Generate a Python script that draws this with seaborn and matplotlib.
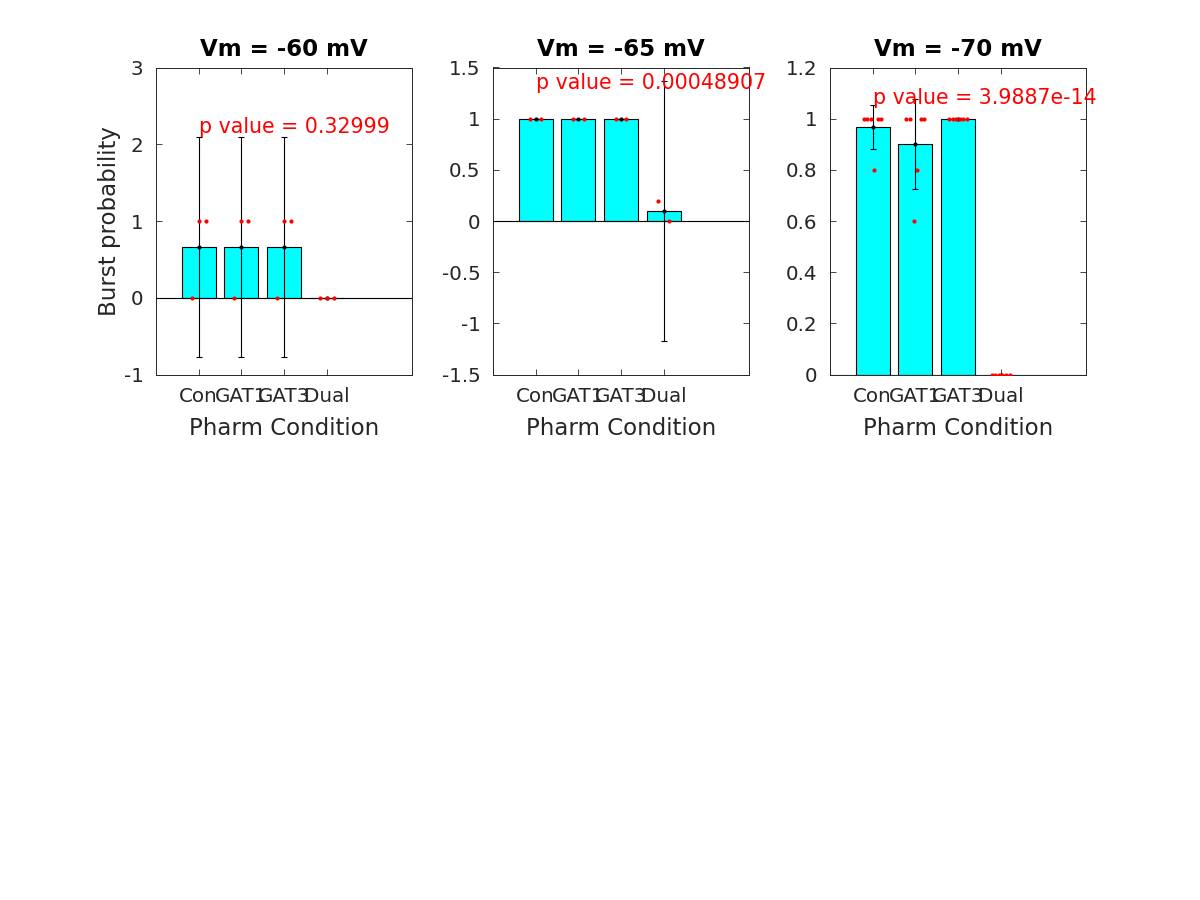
import numpy as np
import pandas as pd
import matplotlib
matplotlib.use("Agg")
import matplotlib.pyplot as plt
import seaborn as sns

# Data
conditions = ["Con", "GAT1", "GAT3", "Dual"]
vm_titles = ["Vm = -60 mV", "Vm = -65 mV", "Vm = -70 mV"]

# individual burst probabilities per condition, one list per Vm
vals_60 = [[0, 1, 1], [0, 1, 1], [0, 1, 1], [0, 0, 0]]
vals_65 = [[1, 1], [1, 1], [1, 1], [0.2, 0]]
vals_70 = [[1, 1, 1, 0.8, 1, 1], [1, 1, 0.6, 0.8, 1, 1], [1, 1, 1, 1, 1, 1], [0, 0, 0, 0, 0, 0]]

# 95% CI half widths
ci_60 = [1.434, 1.434, 1.434, 0]
ci_65 = [0, 0, 0, 1.27]
ci_70 = [0.0857, 0.1756, 0, 0]

p_values = ["0.32999", "0.00048907", "3.9887e-14"]
p_text_y = [2.23, 1.35, 1.08]

ylims = [(-1, 3), (-1.5, 1.5), (0, 1.2)]
yticks = [[-1, 0, 1, 2, 3],
          [-1.5, -1, -0.5, 0, 0.5, 1, 1.5],
          [0, 0.2, 0.4, 0.6, 0.8, 1, 1.2]]

all_vals = [vals_60, vals_65, vals_70]
all_ci = [ci_60, ci_65, ci_70]

sns.set_style("ticks")
plt.rcParams["font.family"] = ["DejaVu Sans"]
plt.rcParams["axes.unicode_minus"] = False

GRAY = "#262626"
fig = plt.figure(figsize=(12, 9), dpi=100)
lefts = [0.13, 0.4108, 0.6916]

for k in range(3):
    ax = fig.add_axes([lefts[k], 0.5838, 0.2134, 0.3412])
    rows = []
    for c, vs in zip(conditions, all_vals[k]):
        for v in vs:
            rows.append({"cond": c, "val": v})
    df = pd.DataFrame(rows)

    sns.barplot(data=df, x="cond", y="val", order=conditions, estimator="mean",
                errorbar=None, color="cyan", saturation=1, edgecolor="black",
                linewidth=0.8, width=0.8, ax=ax, zorder=2)

    means = df.groupby("cond", sort=False)["val"].mean().reindex(conditions).values
    ax.axhline(0, color="black", lw=0.8, zorder=3)
    ax.errorbar(np.arange(4), means, yerr=all_ci[k], fmt="none", ecolor="black",
                elinewidth=0.8, capsize=2, capthick=0.8, zorder=4)
    ax.scatter(np.arange(4), means, s=9, color="black", linewidths=0, zorder=4)

    # individual points, spread around each bar centre
    for i, vs in enumerate(all_vals[k]):
        n = len(vs)
        offs = (np.arange(n) - (n - 1) / 2) * 0.5 / n
        ax.scatter(i + offs, vs, s=9, color="red", zorder=5, linewidths=0)

    ax.text(0, p_text_y[k], "p value = " + p_values[k], color="red",
            fontsize=14.8, ha="left", va="center", zorder=6)

    ax.set_xlim(-1, 5)
    ax.set_ylim(*ylims[k])
    ax.set_xticks(range(4))
    ax.set_xticklabels(conditions)
    ax.set_yticks(yticks[k])
    ax.set_yticklabels([f"{t:g}" for t in yticks[k]])
    ax.tick_params(direction="in", top=True, right=True, length=4, width=0.6,
                   labelsize=14.3, labelcolor=GRAY, color=GRAY, pad=9)
    for sp in ax.spines.values():
        sp.set_visible(True)
        sp.set_color(GRAY)
        sp.set_linewidth(0.7)
    ax.set_xlabel("Pharm Condition", fontsize=16.5, color=GRAY, labelpad=8)
    if k == 0:
        ax.set_ylabel("Burst probability", fontsize=16.5, color=GRAY, labelpad=2)
    else:
        ax.set_ylabel("")
    ax.set_title(vm_titles[k], fontsize=16.5, fontweight="bold", color="black", pad=8.5)

fig.savefig("out.png", dpi=100)
